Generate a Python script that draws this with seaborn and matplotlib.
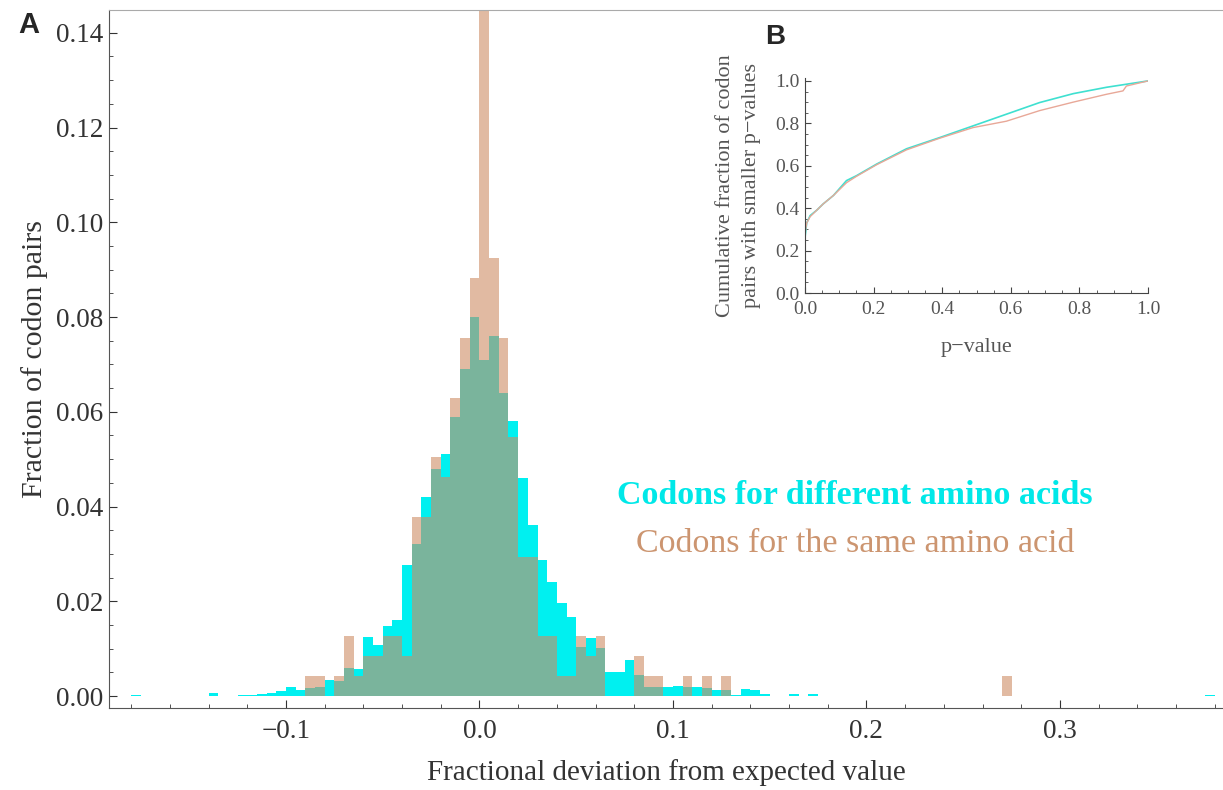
import numpy as np
import pandas as pd
import matplotlib
matplotlib.use('Agg')
import matplotlib.pyplot as plt
from matplotlib.ticker import MultipleLocator, FuncFormatter
import seaborn as sns

# histogram A: bin left edges (width 0.005) and fraction of codon pairs per bin
diff_left = [-0.180, -0.140, -0.125, -0.120, -0.115, -0.110, -0.105, -0.100, -0.095,
             -0.090, -0.085, -0.080, -0.075, -0.070, -0.065, -0.060, -0.055, -0.050,
             -0.045, -0.040, -0.035, -0.030, -0.025, -0.020, -0.015, -0.010, -0.005,
             0.000, 0.005, 0.010, 0.015, 0.020, 0.025, 0.030, 0.035, 0.040, 0.045,
             0.050, 0.055, 0.060, 0.065, 0.070, 0.075, 0.080, 0.085, 0.090, 0.095,
             0.100, 0.105, 0.110, 0.115, 0.120, 0.125, 0.130, 0.135, 0.140, 0.145,
             0.160, 0.170, 0.375]
diff_frac = [0.0003, 0.0006, 0.0002, 0.0003, 0.0004, 0.0006, 0.0011, 0.0019, 0.0013,
             0.0017, 0.0019, 0.0034, 0.0032, 0.0060, 0.0057, 0.0125, 0.0108, 0.0148,
             0.0160, 0.0277, 0.0320, 0.0420, 0.0480, 0.0510, 0.0590, 0.0690, 0.0800,
             0.0710, 0.0760, 0.0640, 0.0580, 0.0460, 0.0360, 0.0287, 0.0240, 0.0196, 0.0167,
             0.0104, 0.0122, 0.0101, 0.0050, 0.0050, 0.0076, 0.0044, 0.0020, 0.0020, 0.0020,
             0.0021, 0.0020, 0.0019, 0.0017, 0.0013, 0.0013, 0.0003, 0.0015, 0.0012, 0.0004,
             0.0004, 0.0004, 0.0003]

same_left = [-0.090, -0.085, -0.075, -0.070, -0.065, -0.060, -0.055, -0.050, -0.045,
             -0.040, -0.035, -0.030, -0.025, -0.020, -0.015, -0.010, -0.005, 0.000,
             0.005, 0.010, 0.015, 0.020, 0.025, 0.030, 0.035, 0.040, 0.045, 0.050,
             0.055, 0.060, 0.080, 0.085, 0.090, 0.105, 0.115, 0.125, 0.270]
same_frac = [0.0042, 0.0042, 0.0042, 0.0126, 0.0042, 0.0084, 0.0084, 0.0126, 0.0126,
             0.0084, 0.0378, 0.0378, 0.0504, 0.0462, 0.0630, 0.0756, 0.0882, 0.1470,
             0.0924, 0.0756, 0.0546, 0.0294, 0.0294, 0.0126, 0.0126, 0.0042, 0.0042, 0.0126,
             0.0084, 0.0126, 0.0084, 0.0042, 0.0042, 0.0042, 0.0042, 0.0042, 0.0042]

# inset B: cumulative fraction vs p-value
p_diff = [0.0, 0.005, 0.015, 0.034, 0.053, 0.083, 0.121, 0.15, 0.209, 0.296, 0.393,
          0.49, 0.587, 0.684, 0.782, 0.879, 1.0]
cum_diff = [0.26, 0.33, 0.365, 0.39, 0.42, 0.46, 0.53, 0.553, 0.608, 0.68, 0.733,
            0.788, 0.843, 0.898, 0.94, 0.97, 1.0]
p_same = [0.0, 0.005, 0.015, 0.034, 0.053, 0.083, 0.121, 0.15, 0.209, 0.296, 0.393,
          0.49, 0.587, 0.684, 0.782, 0.879, 0.927, 0.937, 1.0]
cum_same = [0.28, 0.33, 0.36, 0.39, 0.42, 0.46, 0.52, 0.55, 0.605, 0.675, 0.73,
            0.78, 0.81, 0.86, 0.9, 0.937, 0.953, 0.976, 1.0]

binw = 0.005
cyan = '#00F0F0'
tan = '#CD8C64'


def fmt(nd):
    return FuncFormatter(lambda v, p: ('%.*f' % (nd, v)).replace('-', '\u2212'))


sns.set_style('ticks')
plt.rcParams['font.family'] = ['Liberation Serif', 'DejaVu Serif']

fig = plt.figure(figsize=(12.23, 7.90), dpi=100)
ax = fig.add_axes([0.0891, 0.1038, 0.9109, 0.8835])

diff = pd.DataFrame({'x': np.array(diff_left) + binw / 2, 'w': diff_frac})
same = pd.DataFrame({'x': np.array(same_left) + binw / 2, 'w': same_frac})
sns.histplot(data=diff, x='x', weights='w', binwidth=binw, binrange=(-0.2, 0.4),
             color=cyan, alpha=1.0, linewidth=0, ax=ax)
sns.histplot(data=same, x='x', weights='w', binwidth=binw, binrange=(-0.2, 0.4),
             color=tan, alpha=0.6, linewidth=0, ax=ax)

ax.set_xlim(-0.1915, 0.3843)
ax.set_ylim(-0.00253, 0.1448)
ax.xaxis.set_major_locator(MultipleLocator(0.1))
ax.xaxis.set_minor_locator(MultipleLocator(0.02))
ax.yaxis.set_major_locator(MultipleLocator(0.02))
ax.yaxis.set_minor_locator(MultipleLocator(0.005))
ax.xaxis.set_major_formatter(fmt(1))
ax.yaxis.set_major_formatter(fmt(2))
ax.tick_params(which='both', direction='in', labelsize=19.5, color='#333333', labelcolor='#333333')
ax.tick_params(which='major', length=6)
ax.tick_params(which='minor', length=3)
ax.tick_params(axis='y', which='major', pad=4)
ax.tick_params(axis='x', which='major', pad=8)
ax.spines['right'].set_visible(False)
ax.spines['top'].set_color('#aaaaaa')
ax.spines['left'].set_color('#555555')
ax.spines['bottom'].set_color('#555555')
ax.set_xlabel('Fractional deviation from expected value', fontsize=21, color='#333333', labelpad=11)
ax.set_ylabel('Fraction of codon pairs', fontsize=21.5, color='#333333', labelpad=6)

fig.text(0.699, 0.373, 'Codons for different amino acids', color='#00E8E8',
         fontsize=24.5, fontweight='bold', ha='center', va='center')
fig.text(0.699, 0.312, 'Codons for the same amino acid', color='#CC9570',
         fontsize=24.5, ha='center', va='center')
fig.text(0.015, 0.958, 'A', fontsize=21, fontweight='bold', family='Liberation Sans')

# inset B
ax2 = fig.add_axes([0.6582, 0.6291, 0.2805, 0.2725])
sns.lineplot(x=p_diff, y=cum_diff, color='#3FE0D0', lw=1.2, ax=ax2)
sns.lineplot(x=p_same, y=cum_same, color='#E8A898', lw=1.0, ax=ax2)
ax2.set_xlim(0, 1.0)
ax2.set_ylim(0, 1.015)
ax2.xaxis.set_major_locator(MultipleLocator(0.2))
ax2.xaxis.set_minor_locator(MultipleLocator(0.05))
ax2.yaxis.set_major_locator(MultipleLocator(0.2))
ax2.yaxis.set_minor_locator(MultipleLocator(0.05))
ax2.xaxis.set_major_formatter(fmt(1))
ax2.yaxis.set_major_formatter(fmt(1))
ax2.tick_params(which='both', direction='in', labelsize=14, color='#444444', labelcolor='#555555')
ax2.tick_params(which='major', length=4)
ax2.tick_params(which='minor', length=2)
ax2.tick_params(axis='x', which='major', pad=6)
ax2.tick_params(axis='y', which='major', pad=4)
ax2.patch.set_alpha(0)
sns.despine(ax=ax2)
ax2.spines['left'].set_color('#444444')
ax2.spines['bottom'].set_color('#444444')
ax2.set_xlabel('p\u2212value', fontsize=16, color='#555555', labelpad=14)
ax2.set_ylabel('Cumulative fraction of codon\npairs with smaller p\u2212values',
               fontsize=16, color='#555555', labelpad=10, linespacing=1.5)
fig.text(0.626, 0.944, 'B', fontsize=20, fontweight='bold', family='Liberation Sans')

fig.savefig('out.png', dpi=100)
